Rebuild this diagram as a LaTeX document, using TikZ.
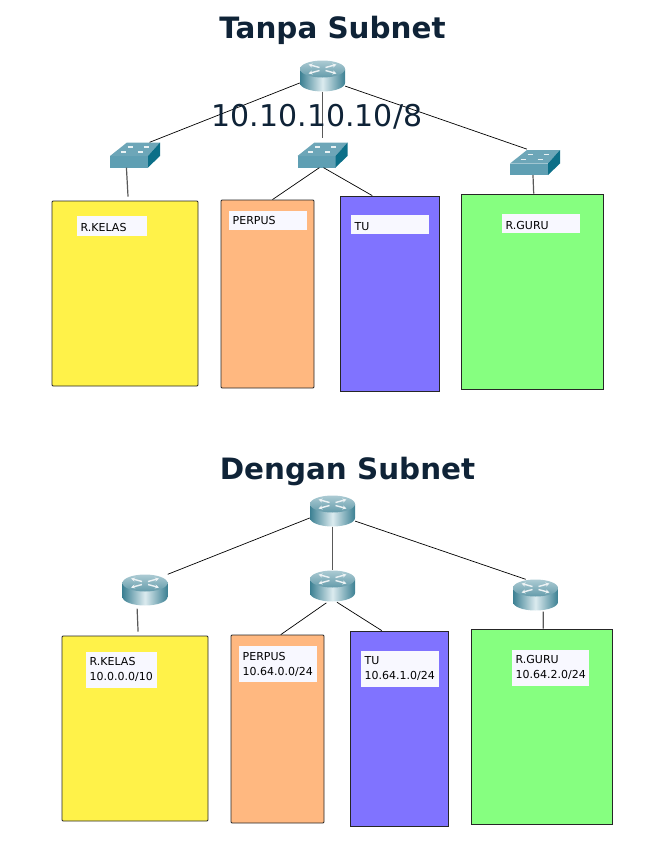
\documentclass[tikz,border=0pt]{standalone}
\usepackage{fontspec}
\setmainfont{DejaVu Sans}
\usetikzlibrary{arrows.meta}
\definecolor{judul}{HTML}{0F2337}
\definecolor{kuning}{HTML}{FFF249}
\definecolor{jingga}{HTML}{FFB880}
\definecolor{ungu}{HTML}{8073FF}
\definecolor{hijau}{HTML}{86FF80}
\definecolor{kertas}{HTML}{F8F8FF}
\definecolor{tealdark}{HTML}{3C8093}
\definecolor{teallight}{HTML}{DCEBEF}
\definecolor{swfront}{HTML}{5F9FB3}
\definecolor{swtop}{HTML}{6DA6B8}
\definecolor{swside}{HTML}{0C6F88}
\newcommand{\routericon}{%
  \begin{scope}[shift={(path picture bounding box.center)}]
    \path[left color=tealdark, right color=tealdark, middle color=teallight] (-22.5,-7) -- (-22.5,7) arc[start angle=180, end angle=360, x radius=22.5, y radius=-8.5] -- (22.5,-7) -- cycle;
    \path[top color=teallight!70!tealdark, bottom color=tealdark!75!teallight] (0,-7) ellipse[x radius=22.5, y radius=8.5];
    \foreach \sx/\sy in {-1/-1,1/-1,-1/1,1/1}
      \draw[white!90!tealdark, line width=1.4pt, -{Stealth[length=4pt,width=4pt]}] (\sx*3,-7+\sy*1.5) -- (\sx*14,-7+\sy*4.5);
  \end{scope}}
\newcommand{\switchicon}{%
  \begin{scope}[shift={(path picture bounding box.center)}]
    \fill[swfront] (-25,1) rectangle (13,12.5);
    \fill[swtop] (-25,1) -- (-8,-12.5) -- (25,-12.5) -- (13,1) -- cycle;
    \fill[swside] (13,1) -- (25,-12.5) -- (25,1) -- (13,12.5) -- cycle;
    \foreach \px/\py in {-12/-3,-5/-8,5/-3,11/-8}
      \draw[white!85!swtop, line width=1.1pt] (\px-2.5,\py) -- (\px+2.5,\py);
  \end{scope}}
\tikzset{
  routerbox/.style={minimum width=45pt, minimum height=31pt, inner sep=0pt, path picture={\routericon}},
  switchbox/.style={minimum width=50pt, minimum height=25pt, inner sep=0pt, path picture={\switchicon}},
  roombox/.style={draw=black!85, line width=0.8pt, inner sep=0pt},
  roomlabel/.style={fill=kertas, anchor=north west, align=left, inner sep=0pt, inner xsep=3.5pt, font=\fontsize{11}{15}\selectfont},
  link/.style={black, line width=0.7pt},
  uplink/.style={black!65, line width=1.2pt},
  heading/.style={text=judul, font=\fontsize{29.4}{32}\selectfont\bfseries}
}
\begin{document}
\begin{tikzpicture}[x=1pt,y=-1pt]
\useasboundingbox (0,0) rectangle (670,844);
\node[heading] (judulA) at (332.5,30) {Tanpa Subnet};
\node[routerbox] (rA) at (322.5,76) {};
\node[switchbox] (sKelas) at (135,155) {};
\node[switchbox] (sTengah) at (322.5,155) {};
\node[switchbox] (sGuru) at (535,162.5) {};
\node[roombox, fill=kuning, rounded corners=1pt, minimum width=146pt, minimum height=185pt] (kelas) at (125,293.5) {};
\node[roombox, fill=jingga, rounded corners=1pt, minimum width=93pt, minimum height=188pt] (perpus) at (267.5,294) {};
\node[roombox, fill=ungu, minimum width=99pt, minimum height=195pt] (tu) at (389.5,293.5) {};
\node[roombox, fill=hijau, minimum width=142pt, minimum height=195pt] (guru) at (532,291.5) {};
\node[roomlabel, text width=63pt, minimum height=20pt, text height=10pt] (lKelas) at (77,216) {R.KELAS};
\node[roomlabel, text width=71pt, minimum height=19pt] (lPerpus) at (229,211) {PERPUS};
\node[roomlabel, text width=71pt, minimum height=19pt, text height=11pt] (lTu) at (351,215) {TU};
\node[roomlabel, text width=71pt, minimum height=19pt, text height=11pt] (lGuru) at (502,214) {R.GURU};
\draw[link] (rA.197) -- (sKelas.41);
\draw[uplink, shorten >=4pt] (rA.south) -- (sTengah.north);
\draw[link, shorten >=2pt] (rA.336) -- (sGuru.116);
\draw[uplink, shorten >=4pt] (sKelas.236) -- (kelas.88);
\draw[link] (sTengah.256) -- (perpus.87);
\draw[link] (sTengah.275) -- (tu.100);
\draw[uplink] (sGuru.261) -- (guru.89);
\node[text=judul, font=\fontsize{30}{32}\selectfont] (ipA) at (317,116.5) {10.10.10.10/8};

\node[heading] (judulB) at (347.5,471) {Dengan Subnet};
\node[routerbox] (rB) at (332.5,511) {};
\node[routerbox] (rKelas) at (145,590) {};
\node[routerbox] (rTengah) at (332.5,586) {};
\node[routerbox] (rGuru) at (535.5,595) {};
\node[roombox, fill=kuning, rounded corners=1pt, minimum width=146pt, minimum height=185pt] (kelasB) at (135,728.5) {};
\node[roombox, fill=jingga, rounded corners=1pt, minimum width=93pt, minimum height=188pt] (perpusB) at (277.5,729) {};
\node[roombox, fill=ungu, minimum width=98pt, minimum height=195pt] (tuB) at (399,728.5) {};
\node[roombox, fill=hijau, minimum width=141pt, minimum height=195pt] (guruB) at (541.5,726.5) {};
\node[roomlabel, text width=64pt, minimum height=36pt] (lKelasB) at (86,651.5) {R.KELAS\\10.0.0.0/10};
\node[roomlabel, text width=71pt, minimum height=36pt] (lPerpusB) at (239,646) {PERPUS\\10.64.0.0/24};
\node[roomlabel, text width=71pt, minimum height=36pt] (lTuB) at (361,650.5) {TU\\10.64.1.0/24};
\node[roomlabel, text width=70pt, minimum height=36pt] (lGuruB) at (512,649.5) {R.GURU\\10.64.2.0/24};
\draw[link] (rB.197) -- (rKelas.north east);
\draw[uplink] (rB.south) -- (rTengah.north);
\draw[link] (rB.336) -- (rGuru.122);
\draw[uplink, shorten <=3pt, shorten >=4pt] (rKelas.243) -- (kelasB.88);
\draw[link, shorten <=2pt] (rTengah.254) -- (perpusB.88);
\draw[link, shorten <=1pt] (rTengah.283) -- (tuB.100);
\draw[uplink, shorten <=1pt] (rGuru.296) -- (guruB.89);
\end{tikzpicture}
\end{document}
